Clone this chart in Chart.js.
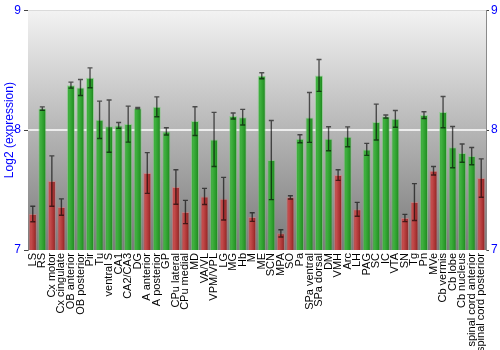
<!DOCTYPE html>
<html>
<head>
<meta charset="utf-8">
<script src="https://cdn.jsdelivr.net/npm/chart.js@4/dist/chart.umd.min.js"></script>
<style>
  html, body { margin: 0; padding: 0; background: #ffffff; }
  #wrap { width: 500px; height: 350px; }
</style>
</head>
<body>
<div id="wrap"><canvas id="c" width="500" height="350"></canvas></div>
<script>
// Brain regions
const regions = [
  "LS", "RS", "Cx motor", "Cx cingulate", "OB anterior", "OB posterior", "Pir", "Tu",
  "ventral S", "CA1", "CA2/CA3", "DG", "A anterior", "A posterior", "GP", "CPu lateral",
  "CPu medial", "MD", "VA/VL", "VPM/VPL", "LG", "MG", "Hb", "M", "ME", "SCN", "MPA", "SO",
  "Pa", "SPa ventral", "SPa dorsal", "DM", "VMH", "Arc", "LH", "PAG", "SC", "IC", "VTA",
  "SN", "Tg", "Pn", "MVe", "Cb vermis", "Cb lobe", "Cb nucleus",
  "spinal cord anterior", "spinal cord posterior"
];

// Mean log2 expression per region
const expression = [
  7.30, 8.18, 7.575, 7.358, 8.375, 8.355, 8.436, 8.086,
  8.033, 8.039, 8.05, 8.183, 7.642, 8.194, 7.989, 7.525,
  7.317, 8.075, 7.447, 7.922, 7.428, 8.117, 8.108, 7.275, 8.453, 7.75, 7.139, 7.439,
  7.928, 8.106, 8.456, 7.928, 7.625, 7.944, 7.339, 7.839, 8.067, 8.114, 8.094,
  7.267, 7.40, 8.125, 7.661, 8.15, 7.858, 7.808,
  7.783, 7.60
];

// Standard error per region
const stdError = [
  0.065, 0.014, 0.21, 0.068, 0.025, 0.067, 0.083, 0.156,
  0.218, 0.025, 0.15, 0.006, 0.17, 0.083, 0.03, 0.144,
  0.097, 0.12, 0.067, 0.226, 0.178, 0.025, 0.065, 0.036, 0.025, 0.33, 0.03, 0.014,
  0.033, 0.208, 0.133, 0.1, 0.044, 0.083, 0.058, 0.05, 0.15, 0.0125, 0.07,
  0.03, 0.154, 0.028, 0.035, 0.13, 0.172, 0.076,
  0.072, 0.16
];

// Axis tick values
const yTicks = [7, 8, 9];

const LOW_LEVEL = 7.7;
const BAR_FRACTION = 0.84;

const greenStops = ['#3aa93a', '#3fb03f', '#2a9a2a', '#1b7d1b'];
const redStops = ['#bd4646', '#c44c4c', '#a83232', '#7e1c1c'];

function barFill(context) {
  const chart = context.chart;
  const xs = chart.scales && chart.scales.x;
  const v = context.raw;
  const stops = v < LOW_LEVEL ? redStops : greenStops;
  if (!xs || context.type !== 'data' || !chart.chartArea) return stops[2];
  const cx = xs.getPixelForValue(context.dataIndex);
  const step = (xs.right - xs.left) / regions.length;
  const half = step * BAR_FRACTION / 2;
  const g = chart.ctx.createLinearGradient(cx - half, 0, cx + half, 0);
  g.addColorStop(0, stops[0]);
  g.addColorStop(0.3, stops[1]);
  g.addColorStop(0.7, stops[2]);
  g.addColorStop(1, stops[3]);
  return g;
}

function barEdge(context) {
  return context.raw < LOW_LEVEL ? 'rgba(220,120,120,0.55)' : 'rgba(120,210,120,0.55)';
}

// Grey vertical gradient behind the plot
const plotBackground = {
  id: 'plotBackground',
  beforeDatasetsDraw(chart) {
    const a = chart.chartArea;
    const ctx = chart.ctx;
    const g = ctx.createLinearGradient(0, a.top, 0, a.bottom);
    g.addColorStop(0, '#f3f3f3');
    g.addColorStop(0.5, '#b6b6b6');
    g.addColorStop(1, '#7a7a7a');
    ctx.save();
    ctx.fillStyle = g;
    ctx.fillRect(a.left, a.top, a.right - a.left, a.bottom - a.top);
    // reference line at 8
    const y8 = chart.scales.y.getPixelForValue(8);
    ctx.strokeStyle = '#ffffff';
    ctx.lineWidth = 1.5;
    ctx.beginPath();
    ctx.moveTo(a.left, y8);
    ctx.lineTo(a.right, y8);
    ctx.stroke();
    ctx.restore();
  }
};

// Error bars with caps
const errorBars = {
  id: 'errorBars',
  afterDatasetsDraw(chart) {
    const xs = chart.scales.x, ys = chart.scales.y;
    const ctx = chart.ctx;
    ctx.save();
    ctx.strokeStyle = 'rgba(0,0,0,0.62)';
    ctx.lineWidth = 1.4;
    expression.forEach((v, i) => {
      const x = xs.getPixelForValue(i);
      const yHi = ys.getPixelForValue(v + stdError[i]);
      const yLo = ys.getPixelForValue(v - stdError[i]);
      ctx.beginPath();
      ctx.moveTo(x, yHi); ctx.lineTo(x, yLo);
      ctx.moveTo(x - 2.5, yHi); ctx.lineTo(x + 2.5, yHi);
      ctx.moveTo(x - 2.5, yLo); ctx.lineTo(x + 2.5, yLo);
      ctx.stroke();
    });
    ctx.restore();
  }
};

new Chart(document.getElementById('c'), {
  type: 'bar',
  data: {
    labels: regions,
    datasets: [{
      data: expression,
      backgroundColor: barFill,
      borderColor: barEdge,
      borderWidth: 1,
      categoryPercentage: 1,
      barPercentage: BAR_FRACTION
    }]
  },
  options: {
    responsive: false,
    animation: false,
    layout: { padding: { top: 10, left: 0, right: 0, bottom: 0 } },
    plugins: { legend: { display: false }, tooltip: { enabled: false } },
    scales: {
      x: {
        grid: { display: false, drawTicks: false },
        border: { display: false },
        ticks: {
          autoSkip: false,
          minRotation: 90,
          maxRotation: 90,
          padding: 3,
          color: '#000000',
          font: { family: '"Liberation Sans", Arial, sans-serif', size: 11 }
        },
        afterFit(scale) { scale.height = 100; }
      },
      y: {
        position: 'left',
        min: 7,
        max: 9,
        afterBuildTicks(scale) { scale.ticks = yTicks.map(v => ({ value: v })); },
        grid: {
          color: ctx => (ctx.tick && ctx.tick.value === 9) ? '#7a7a7a' : 'rgba(0,0,0,0)',
          tickColor: '#444444',
          tickLength: 4,
          lineWidth: 1
        },
        border: { display: true, color: '#8a8a8a', width: 1 },
        ticks: {
          padding: 3,
          color: '#0000ff',
          font: { family: '"Liberation Sans", Arial, sans-serif', size: 12 }
        },
        title: {
          display: true,
          text: 'Log2 (expression)',
          color: '#0000ff',
          padding: { top: 2, bottom: 0 },
          font: { family: '"Liberation Sans", Arial, sans-serif', size: 12 }
        },
        afterFit(scale) { scale.width = 28; }
      },
      y2: {
        position: 'right',
        min: 7,
        max: 9,
        afterBuildTicks(scale) { scale.ticks = yTicks.map(v => ({ value: v })); },
        grid: { drawOnChartArea: false, tickColor: '#444444', tickLength: 3 },
        border: { display: true, color: '#8a8a8a', width: 1 },
        ticks: {
          padding: 2,
          color: '#0000ff',
          font: { family: '"Liberation Sans", Arial, sans-serif', size: 12 }
        },
        afterFit(scale) { scale.width = 14; }
      }
    }
  },
  plugins: [plotBackground, errorBars]
});
</script>
</body>
</html>
